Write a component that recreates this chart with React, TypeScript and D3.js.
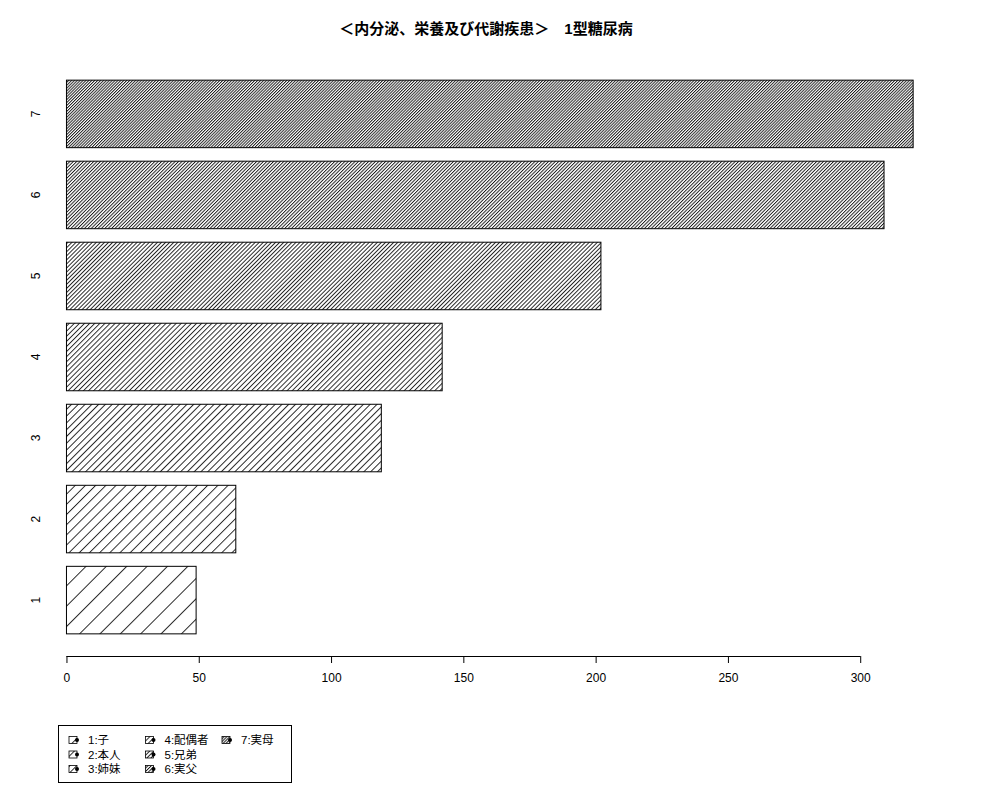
import { useEffect, useRef } from 'react';
import * as d3 from 'd3';

const categories = ['1', '2', '3', '4', '5', '6', '7'];
const values = [49, 64, 119, 142, 202, 309, 320];
const densities = [5, 10, 15, 20, 25, 30, 35];
const legendLabels = ['1:子', '2:本人', '3:姉妹', '4:配偶者', '5:兄弟', '6:実父', '7:実母'];
const xTicks = [0, 50, 100, 150, 200, 250, 300];
const title = '＜内分泌、栄養及び代謝疾患＞　1型糖尿病';

const FONT = '"Liberation Sans", Arial, "Noto Sans CJK JP", sans-serif';

export default function App() {
  const svgRef = useRef<SVGSVGElement>(null);

  useEffect(() => {
    document.body.style.margin = '0';
    if (!svgRef.current) return;
    const width = 1000;
    const height = 800;
    const svg = d3.select(svgRef.current);
    svg.selectAll('*').remove();
    svg.attr('width', width).attr('height', height);

    svg.append('rect').attr('width', width).attr('height', height).attr('fill', '#fff');

    // hatch patterns (lines per inch at 72 dpi)
    const defs = svg.append('defs');
    densities.forEach((d, i) => {
      const gap = 72 / d;
      const p = defs.append('pattern')
        .attr('id', `hatch-${i}`)
        .attr('patternUnits', 'userSpaceOnUse')
        .attr('width', gap)
        .attr('height', 10)
        .attr('patternTransform', 'rotate(45)');
      p.append('rect').attr('width', gap).attr('height', 10).attr('fill', '#fff');
      p.append('line')
        .attr('x1', 0.5).attr('x2', 0.5)
        .attr('y1', 0).attr('y2', 10)
        .attr('stroke', '#000')
        .attr('stroke-width', 0.85);
    });

    const xMax = d3.max(values)!;
    const ext = xMax * 0.04;
    const x = d3.scaleLinear().domain([-ext, xMax + ext]).range([32.6, 947]);

    const y = d3.scaleBand<string>()
      .domain([...categories].reverse())
      .range([58, 656])
      .paddingInner(1 / 6)
      .paddingOuter(0.328 / 1.2);

    // bars
    svg.append('g')
      .selectAll('rect')
      .data(values)
      .enter()
      .append('rect')
      .attr('x', x(0))
      .attr('y', (_, i) => y(categories[i])!)
      .attr('width', d => x(d) - x(0))
      .attr('height', y.bandwidth())
      .attr('fill', (_, i) => `url(#hatch-${i})`)
      .attr('stroke', '#000')
      .attr('stroke-width', 1);

    // y labels
    svg.append('g')
      .selectAll('text')
      .data(categories)
      .enter()
      .append('text')
      .attr('transform', d => `translate(40,${y(d)! + y.bandwidth() / 2}) rotate(-90)`)
      .attr('text-anchor', 'middle')
      .attr('font-family', FONT)
      .attr('font-size', 12)
      .text(d => d);

    // x axis
    svg.append('g')
      .attr('transform', 'translate(0,656)')
      .call(d3.axisBottom(x).tickValues(xTicks).tickSize(7).tickPadding(10).tickSizeOuter(0))
      .call(g => g.select('.domain').attr('d', `M${x(0)},0.5H${x(300)}`).attr('stroke', '#000'))
      .call(g => g.selectAll('.tick line').attr('stroke', '#000'))
      .call(g => g.selectAll('.tick text')
        .attr('fill', '#000')
        .attr('font-family', FONT)
        .attr('font-size', 12));

    // title
    svg.append('text')
      .attr('x', 486)
      .attr('y', 34)
      .attr('text-anchor', 'middle')
      .attr('font-family', FONT)
      .attr('font-weight', 'bold')
      .attr('font-size', 15)
      .text(title);

    // legend
    const lg = svg.append('g');
    lg.append('rect')
      .attr('x', 58.5).attr('y', 725.5)
      .attr('width', 233).attr('height', 57)
      .attr('fill', 'none')
      .attr('stroke', '#000');

    const colX = [69, 145.5, 222];
    const rowY = [740, 754.5, 769];
    legendLabels.forEach((label, i) => {
      const cx = colX[Math.floor(i / 3)];
      const cy = rowY[i % 3];
      lg.append('rect')
        .attr('x', cx).attr('y', cy - 3.5)
        .attr('width', 8).attr('height', 7)
        .attr('fill', `url(#hatch-${i})`)
        .attr('stroke', '#000')
        .attr('stroke-width', 0.8);
      lg.append('circle')
        .attr('cx', cx + 8).attr('cy', cy)
        .attr('r', 2)
        .attr('fill', '#000');
      lg.append('text')
        .attr('x', cx + 19)
        .attr('y', cy + 4)
        .attr('font-family', FONT)
        .attr('font-size', 11.5)
        .text(label);
    });
  }, []);

  return <svg ref={svgRef} style={{ display: 'block' }} />;
}
